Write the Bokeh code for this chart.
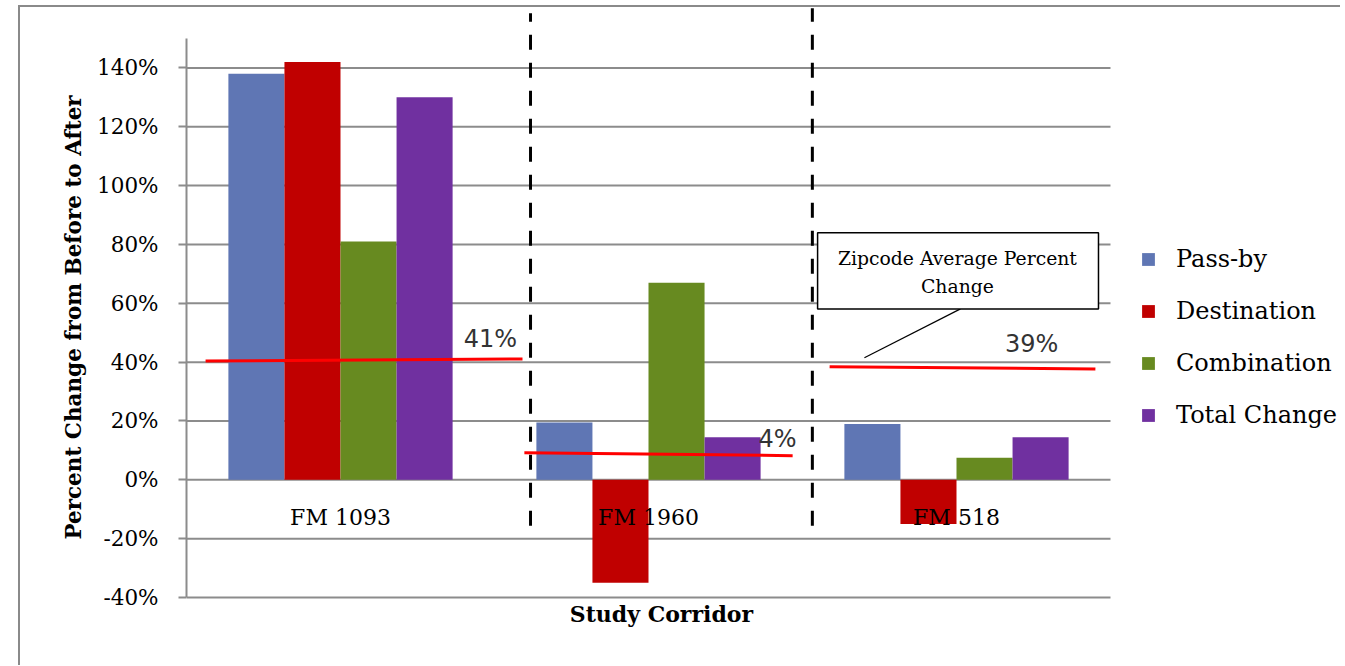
from bokeh.plotting import figure
from bokeh.models import Range1d, FixedTicker, Legend, LegendItem, ColumnDataSource
from bokeh.transform import dodge
from bokeh.core.properties import value
from bokeh.embed import file_html
from bokeh.resources import INLINE

# ---------------- data ----------------
corridors = ["FM 1093", "FM 1960", "FM 518"]
pass_by = [138, 19.5, 19]
destination = [142, -35, -15]
combination = [81, 67, 7.5]
total_change = [130, 14.5, 14.5]
series_names = ["Pass-by", "Destination", "Combination", "Total Change"]
series_colors = ["#5f76b4", "#c00000", "#678a20", "#7030a0"]
y_ticks = [-40, -20, 0, 20, 40, 60, 80, 100, 120, 140]
y_tick_labels = [f"{t}%" for t in y_ticks]

# zipcode average percent change lines (hand-drawn in the original)
zip_avg_labels = ["41%", "4%", "39%"]
zip_line_start = [40.4, 9.2, 38.4]
zip_line_end = [41.1, 8.2, 37.7]

callout_text = ["Zipcode Average Percent", "Change"]
x_title = "Study Corridor"
y_title = "Percent Change from Before to After"

# ---------------- layout constants ----------------
SERIF = "DejaVu Serif"
GRID = "#8c8c8c"
W, H = 1345, 666
n = len(corridors)
centers = [i + 0.5 for i in range(n)]

source = ColumnDataSource(dict(center=centers, corridor=corridors, pass_by=pass_by,
                               destination=destination, combination=combination,
                               total_change=total_change))

p = figure(width=W, height=H, output_backend="svg", toolbar_location=None,
           x_range=Range1d(0, 3.763), y_range=Range1d(-52.58, 162.92),
           min_border_left=186, min_border_right=0, min_border_top=0, min_border_bottom=32)
p.outline_line_color = None
p.background_fill_color = None
p.border_fill_color = None
p.styles = {
    "background-color": "white",
    "background-image": "linear-gradient(#8a8a8a, #8a8a8a), linear-gradient(#8a8a8a, #8a8a8a)",
    "background-size": "calc(100% - 24px) 2px, 2px calc(100% - 6px)",
    "background-position": "19px 5px, 18px 5px",
    "background-repeat": "no-repeat",
}

# grid / axes
p.xgrid.visible = False
p.ygrid.visible = False
p.xaxis.visible = False
p.segment(x0=[0] * len(y_ticks), x1=[n] * len(y_ticks), y0=y_ticks, y1=y_ticks,
          line_color=GRID, line_width=2)
p.yaxis.ticker = FixedTicker(ticks=y_ticks)
p.yaxis.major_label_overrides = {t: l for t, l in zip(y_ticks, y_tick_labels)}
p.yaxis.bounds = (-40, 150)
p.yaxis.axis_line_color = GRID
p.yaxis.axis_line_width = 2
p.yaxis.major_tick_line_color = GRID
p.yaxis.major_tick_line_width = 2
p.yaxis.major_tick_out = 8
p.yaxis.major_tick_in = 0
p.yaxis.minor_tick_line_color = None
p.yaxis.major_label_text_font = SERIF
p.yaxis.major_label_text_font_size = "21.5px"
p.yaxis.major_label_text_color = "black"
p.yaxis.major_label_standoff = 20
p.yaxis.axis_label = y_title
p.yaxis.axis_label_text_font = SERIF
p.yaxis.axis_label_text_font_style = "bold"
p.yaxis.axis_label_text_font_size = "21.5px"
p.yaxis.axis_label_text_color = "black"
p.yaxis.axis_label_standoff = 8

# bars
bw = 0.182
offsets = [-1.5 * bw, -0.5 * bw, 0.5 * bw, 1.5 * bw]
cols = ["pass_by", "destination", "combination", "total_change"]
renderers = []
for col, off, color in zip(cols, offsets, series_colors):
    r = p.vbar(x=dodge("center", off), top=col, bottom=0, width=bw, source=source,
               fill_color=color, line_color=None)
    renderers.append(r)

# category labels next to the zero line
p.text(x="center", y=0, text="corridor", source=source, text_font=value(SERIF),
       text_font_size="22px", text_align="center", text_baseline="middle",
       y_offset=38, text_color="black")

# x axis title
p.text(x=[1.542], y=[-40], text=[x_title], text_font=value(SERIF), text_font_style="bold",
       text_font_size="22px", text_align="center", text_baseline="middle",
       y_offset=17, text_color="black")

# dashed separators
for xs, ytop in ((1.117, 158.6), (2.032, 160.3)):
    p.segment(x0=[xs], y0=[-15.6], x1=[xs], y1=[ytop], line_color="black",
              line_width=3, line_dash="15 13")

# red zipcode average lines
line_x0 = [0.062, 1.097, 2.088]
line_x1 = [1.091, 1.968, 2.951]
p.segment(x0=line_x0, y0=zip_line_start, x1=line_x1, y1=zip_line_end,
          line_color="#ff0000", line_width=3)
label_x = [0.987, 1.919, 2.744]
label_dy = [-20, -17, -25]
for lx, ly, lt, dy in zip(label_x, zip_line_end, zip_avg_labels, label_dy):
    p.text(x=[lx], y=[ly], text=[lt], text_font=value("DejaVu Sans"), text_font_size="24px",
           text_align="center", text_baseline="middle", y_offset=dy, text_color="#333333")

# callout box
p.segment(x0=[2.201], y0=[41.5], x1=[2.513], y1=[58.1], line_color="black", line_width=1.2)
p.quad(left=[2.049], right=[2.961], bottom=[58.1], top=[84.0], fill_color="white",
       line_color="black", line_width=1.5)
p.text(x=[2.503, 2.503], y=[75.3, 65.8], text=callout_text, text_font=value(SERIF),
       text_font_size="18.8px", text_align="center", text_baseline="middle", text_color="black")

# legend
legend = Legend(items=[LegendItem(label=nm, renderers=[r]) for nm, r in zip(series_names, renderers)],
                location=(954, 204), orientation="vertical",
                glyph_width=16, glyph_height=16, label_height=30, spacing=22,
                label_standoff=20, padding=0, margin=0,
                border_line_color=None, background_fill_alpha=0,
                label_text_font=SERIF, label_text_font_size="24px",
                label_text_color="black")
p.add_layout(legend, "center")

open("out.html", "w").write(file_html(p, INLINE))
